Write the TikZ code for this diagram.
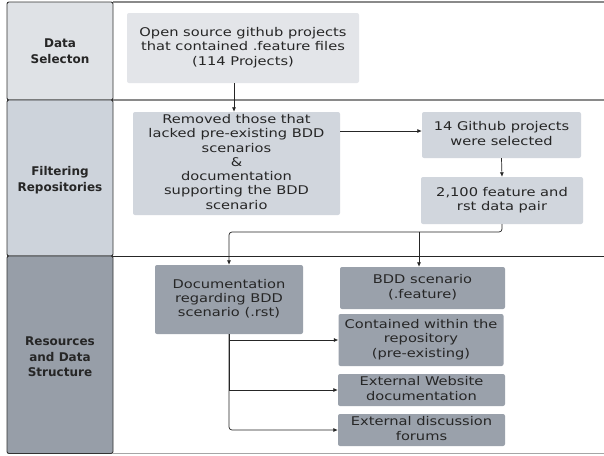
\documentclass[tikz,border=0pt]{standalone}
\usepackage{fontspec}
\setmainfont{DejaVu Sans}
\usetikzlibrary{arrows.meta,calc}
\definecolor{laneA}{HTML}{DFE2E6}
\definecolor{laneB}{HTML}{CDD3DB}
\definecolor{laneC}{HTML}{979EA8}
\definecolor{boxA}{HTML}{E3E5E9}
\definecolor{boxB}{HTML}{D1D6DD}
\definecolor{boxC}{HTML}{9AA1AB}
\definecolor{sepgrey}{HTML}{8A8A8A}
\newcommand{\wtxt}[1]{\scalebox{1.22}[1]{\begin{tabular}{@{}c@{}}#1\end{tabular}}}
\tikzset{
  lanecell/.style={draw=black!80, line width=0.9pt, rounded corners=2pt},
  lanelabel/.style={font=\fontsize{12}{15.5}\selectfont\bfseries, align=center, text=black!85},
  procbox/.style={rounded corners=2pt, align=center, inner sep=0pt, font=\fontsize{12}{14.3}\selectfont, text=black!85},
  conn/.style={line width=0.7pt, draw=black!85, -{Latex[length=4.5pt,width=4pt]}},
  plain/.style={line width=0.7pt, draw=black!85},
}
\begin{document}
\begin{tikzpicture}[x=1pt,y=-1pt]
\useasboundingbox (0,0) rectangle (604,455);
\fill[white] (0,0) rectangle (604,455);
% lane separators
\draw[sepgrey, line width=1.2pt] (113,2) -- (604,2);
\draw[sepgrey, line width=1.2pt] (113,100) -- (604,100);
\draw[black!85, line width=0.9pt] (113,256) -- (604,256);
\draw[black!35, line width=1pt] (113,453.5) -- (604,453.5);
% lane cells
\draw[lanecell, fill=laneA] (7,2) rectangle (113,100);
\draw[lanecell, fill=laneB] (7,100) rectangle (113,256);
\draw[lanecell, fill=laneC] (7,256) rectangle (113,453.5);
\node[lanelabel] (l1) at (60,51) {Data\\Selecton};
\node[lanelabel] (l2) at (60,180) {Filtering\\Repositories};
\node[lanelabel] (l3) at (60,357) {Resources\\and Data\\Structure};
% boxes
\node[procbox, fill=boxA, minimum width=232pt, minimum height=70pt] (b1) at (243,48) {\wtxt{Open source github projects\\that contained .feature files\\(114 Projects)}};
\node[procbox, fill=boxB, minimum width=207pt, minimum height=103pt] (b2) at (236.5,163.5) {\wtxt{Removed those that\\lacked pre-existing BDD\\scenarios\\\&\\documentation\\supporting the BDD\\scenario}};
\node[procbox, fill=boxB, minimum width=159pt, minimum height=46pt] (b3) at (501.5,135) {\wtxt{14 Github projects\\were selected}};
\node[procbox, fill=boxB, minimum width=162pt, minimum height=47pt] (b4) at (502,200.5) {\wtxt{2,100 feature and\\rst data pair}};
\node[procbox, fill=boxC, minimum width=148pt, minimum height=69pt] (b5) at (229,299.5) {\wtxt{Documentation\\regarding BDD\\scenario (.rst)}};
\node[procbox, fill=boxC, minimum width=165pt, minimum height=42pt] (b6) at (422.5,288) {\wtxt{BDD scenario\\(.feature)}};
\node[procbox, fill=boxC, minimum width=165pt, minimum height=52pt] (b7) at (421,340) {\wtxt{Contained within the\\repository\\(pre-existing)}};
\node[procbox, fill=boxC, minimum width=167pt, minimum height=32pt] (b8) at (421.5,390) {\wtxt{External Website\\documentation}};
\node[procbox, fill=boxC, minimum width=167pt, minimum height=32pt] (b9) at (421.5,430) {\wtxt{External discussion\\forums}};
% connectors
\draw[conn] (b1.south -| 234,0) -- (b2.north -| 234,0);
\draw[conn] (b2.east |- 0,131) -- (b3.west |- 0,131);
\draw[conn] (b3.south) -- (b4.north);
\coordinate (split) at (419,232);
\draw[plain, rounded corners=3pt] (b4.south) -- (b4.south |- split) -- (split);
\draw[conn, rounded corners=3pt] (split) -| (b5.north);
\draw[conn] (split) -- (b6.north -| split);
\draw[conn, rounded corners=3pt] (b5.south) |- (b9.west);
\draw[conn] (b5.south) |- (b7.west);
\draw[conn] (b5.south) |- (b8.west);
\end{tikzpicture}
\end{document}
